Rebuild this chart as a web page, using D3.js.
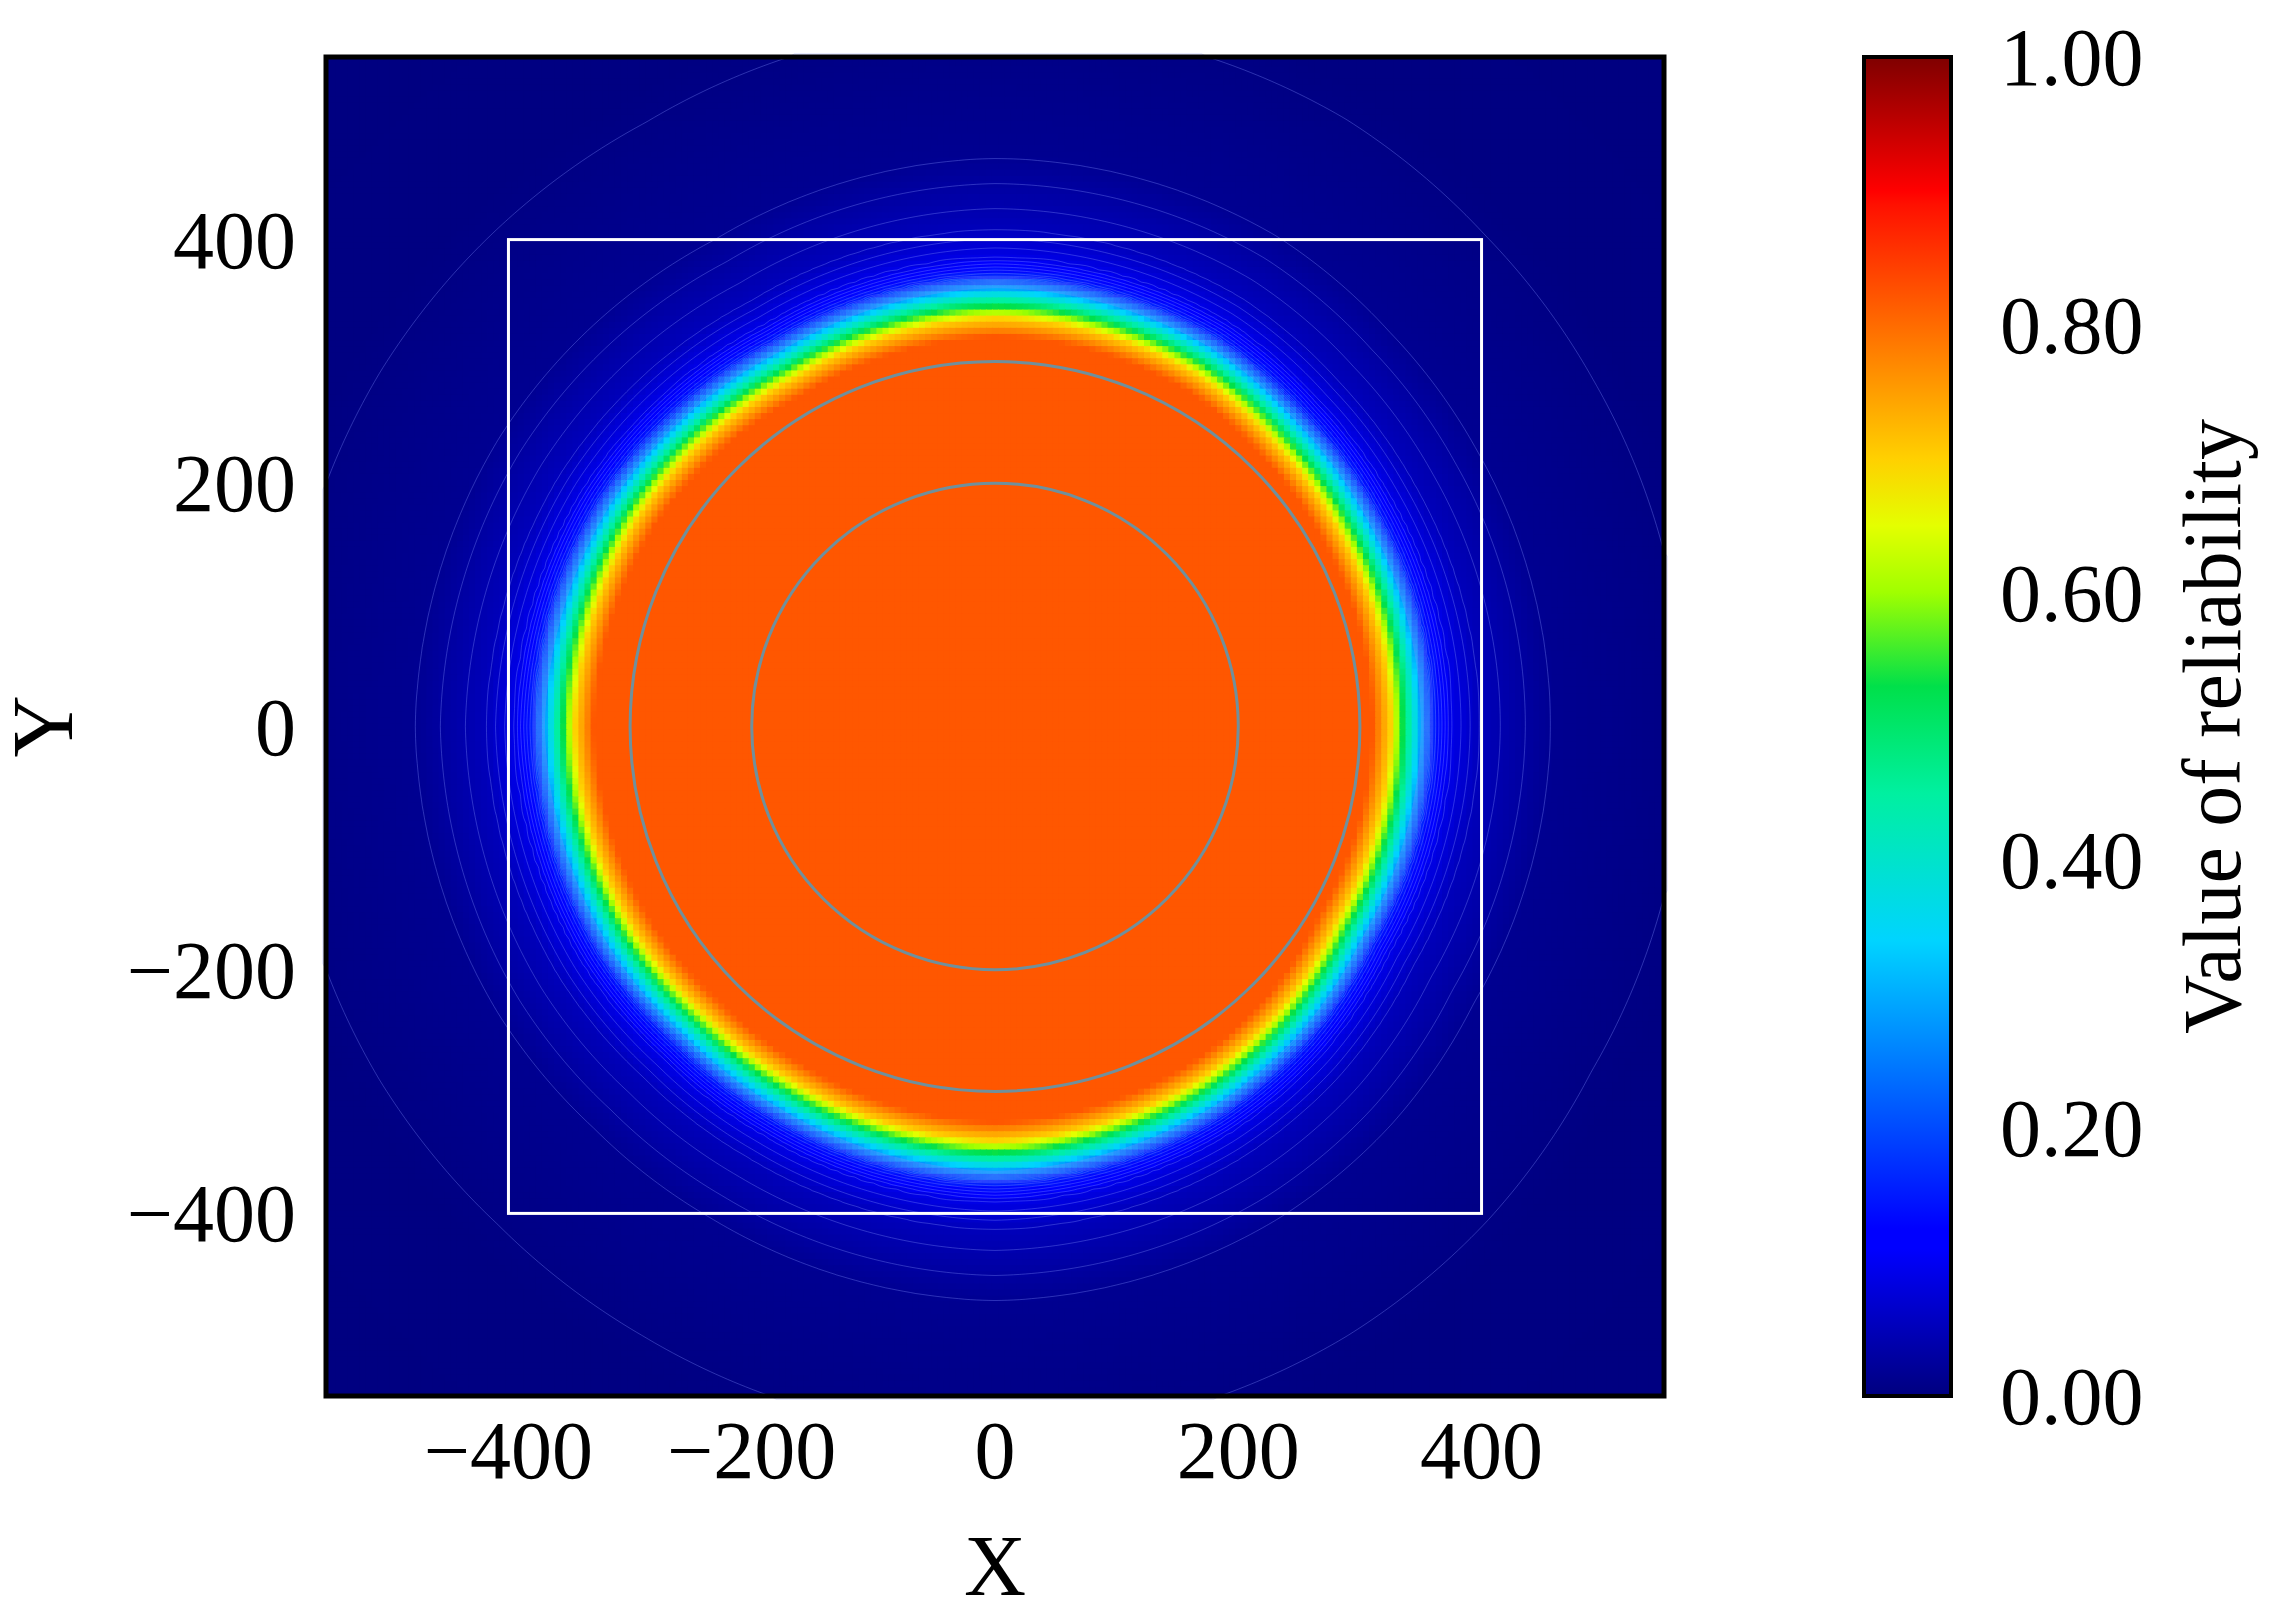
<!DOCTYPE html><html><head><meta charset="utf-8">
<script src="https://cdn.jsdelivr.net/npm/d3@7"></script>
<style>body{margin:0;background:#fff}svg,canvas{position:absolute;left:0;top:0}</style></head><body>
<canvas id="c" width="2273" height="1619"></canvas>
<svg id="s" width="2273" height="1619"></svg>
<script>
// data
const xTicks=[-400,-200,0,200,400];
const yTicks=[-400,-200,0,200,400];
const cbTicks=[0,0.2,0.4,0.6,0.8,1.0];
// boundary radius (value≈0.4) by angle in degrees
const bAngles=[0,30,45,60,90,120,135,150,180,210,225,240,270,300,315,330,360];
const bRadius=[340,340,342,348,350,345,350,355,360,355,350,350,355,350,345,338,340];
// reliability vs signed distance from boundary
const pDist=[-400,-30,-15,0,10,20,35,60,120,250,600];
const pVal=[0.82,0.82,0.7,0.45,0.3,0.16,0.09,0.05,0.015,0.003,0.0];
const circles=[200,300];
const box=400;

const jetStops=[[0,"#00007f"],[0.11,"#0000ff"],[0.125,"#0000ff"],[0.34,"#00d4ff"],[0.45,"#00f0a0"],[0.53,"#00e04a"],[0.6,"#a0ff00"],[0.65,"#e4ff00"],[0.7,"#ffd000"],[0.89,"#ff1000"],[0.9,"#ff0000"],[1,"#7f0000"]];
const jet=d3.scaleLinear().domain(jetStops.map(d=>d[0])).range(jetStops.map(d=>d[1])).clamp(true);

const L=326,R=1664,T=57,B=1396;
const x=d3.scaleLinear().domain([-550,550]).range([L,R]);
const y=d3.scaleLinear().domain([-550,550]).range([B,T]);
const bScale=d3.scaleLinear().domain(bAngles).range(bRadius);
const prof=d3.scaleLinear().domain(pDist).range(pVal).clamp(true);

const step=5,n=221;
const vals=new Array(n*n);
for(let j=0;j<n;j++)for(let i=0;i<n;i++){
  const gx=-550+i*step, gy=550-j*step;
  let a=Math.atan2(gy,gx)*180/Math.PI; if(a<0)a+=360;
  const r=Math.hypot(gx,gy);
  vals[j*n+i]=prof(r-bScale(a));
}
const ctx=document.getElementById("c").getContext("2d");
const cw=x(step)-x(0);
for(let j=0;j<n;j++)for(let i=0;i<n;i++){
  ctx.fillStyle=jet(vals[j*n+i]);
  ctx.fillRect(x(-550+i*step)-cw/2, y(550-j*step)-cw/2, cw+1, cw+1);
}
ctx.clearRect(0,0,L,1619);ctx.clearRect(R,0,700,1619);ctx.clearRect(0,0,2273,T);ctx.clearRect(0,B,2273,300);

const svg=d3.select("#s");
const cont=d3.contours().size([n,n]).thresholds(d3.range(0.005,0.3,0.012))(vals);
const gp=d3.geoPath(d3.geoTransform({point:function(px,py){this.stream.point(x(-550+px*step-step/2),y(550-py*step+step/2));}}));
svg.append("g").selectAll("path").data(cont).join("path").attr("d",gp).attr("fill","none").attr("stroke","#8090ff").attr("stroke-opacity",0.35).attr("stroke-width",1);

svg.selectAll("circle.r").data(circles).join("circle").attr("cx",x(0)).attr("cy",y(0)).attr("r",d=>x(d)-x(0)).attr("fill","none").attr("stroke","#70909c").attr("stroke-width",3);
svg.append("rect").attr("x",x(-box)).attr("y",y(box)).attr("width",x(box)-x(-box)).attr("height",y(-box)-y(box)).attr("fill","none").attr("stroke","#fff").attr("stroke-width",3);
svg.append("rect").attr("x",L).attr("y",T).attr("width",R-L).attr("height",B-T).attr("fill","none").attr("stroke","#000").attr("stroke-width",5);

const font="'Times New Roman','Liberation Serif',serif";
const fmt=d=>d<0?"\u2212"+Math.abs(d):""+d;
svg.append("g").selectAll("text").data(xTicks).join("text").attr("x",d=>x(d)).attr("y",1478).attr("text-anchor","middle").attr("font-family",font).attr("font-size",82).text(fmt);
svg.append("g").selectAll("text").data(yTicks).join("text").attr("x",296).attr("y",d=>y(d)+28).attr("text-anchor","end").attr("font-family",font).attr("font-size",82).text(fmt);
svg.append("text").attr("x",x(0)).attr("y",1595).attr("text-anchor","middle").attr("font-family",font).attr("font-size",86).text("X");
svg.append("text").attr("transform","translate(72,"+y(0)+") rotate(-90)").attr("text-anchor","middle").attr("font-family",font).attr("font-size",86).text("Y");

const cbL=1864,cbW=87;
const cy=d3.scaleLinear().domain([0,1]).range([B,T]);
const grad=svg.append("defs").append("linearGradient").attr("id","g").attr("x1",0).attr("y1",1).attr("x2",0).attr("y2",0);
grad.selectAll("stop").data(jetStops).join("stop").attr("offset",d=>d[0]).attr("stop-color",d=>d[1]);
svg.append("rect").attr("x",cbL).attr("y",T).attr("width",cbW).attr("height",B-T).attr("fill","url(#g)").attr("stroke","#000").attr("stroke-width",4);
svg.append("g").selectAll("text").data(cbTicks).join("text").attr("x",2000).attr("y",d=>cy(d)+28).attr("font-family",font).attr("font-size",82).text(d=>d.toFixed(2));
svg.append("text").attr("transform","translate(2240,"+((T+B)/2)+") rotate(-90)").attr("text-anchor","middle").attr("font-family",font).attr("font-size",82).text("Value of reliability");
</script></body></html>
